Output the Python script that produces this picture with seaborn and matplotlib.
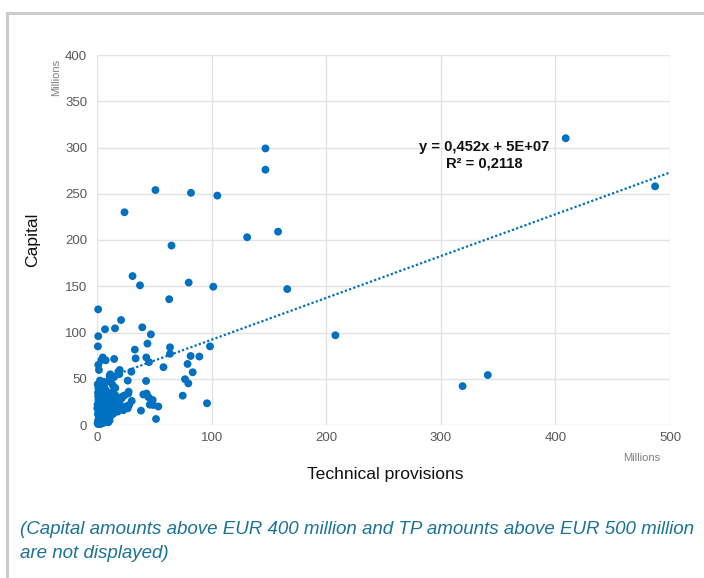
import numpy as np
import pandas as pd
import matplotlib
matplotlib.use("Agg")
import matplotlib.pyplot as plt
import matplotlib.patches as patches
import seaborn as sns

# technical provisions and capital, EUR millions
tp = [487, 409, 341, 319, 208, 147, 147, 158, 166, 131, 105, 82, 51, 24, 65,
      101.5, 80, 63, 31, 37.5, 1, 98.6, 96, 89.3, 81.7, 79, 83.5, 76.8, 79.7, 74.8,
      63.7, 63.7, 58, 53.5, 51.5, 49, 48.6, 46, 44, 47, 39.5, 33, 33.7, 43, 45.4,
      42.8, 43.3, 40.4, 45, 38.4, 30.3, 28, 26.8, 27.6, 30, 21, 15.7, 7, 1.1, 0.8,
      15, 5, 7.6, 3.8, 1.1, 1.7, 19.8, 19.5, 18.6, 11.6, 11, 13, 15, 9, 2.6,
      1.2, 13.7, 16, 14, 27.3, 22, 21.5, 17.2, 18, 18, 18, 23, 26.8, 25, 12,
      10, 9, 11, 14, 16, 20, 22, 13, 24, 15,
      0.5, 1, 2, 0.8, 1.5, 3, 0.5, 2, 4, 1, 3, 5, 2, 0.6, 6, 7, 8, 6, 5, 4,
      7, 9, 3, 2, 1.5, 4, 6, 8, 5, 3, 0.3, 1.2, 9.5, 7.5, 2.5, 4.5, 0.9, 6.5,
      10, 8.5, 1, 12, 11, 14, 3, 5, 2.2]
capital = [258, 310, 54, 42, 97, 299, 276, 209, 147, 203, 248, 251, 254, 230, 194,
           149.5, 154, 136, 161, 151, 125, 85, 23.5, 74, 74.6, 66, 57, 49.5, 45, 31.7,
           84, 77, 62.5, 20, 6.5, 21.6, 27, 22, 88, 98, 105.6, 81.5, 72, 73, 68,
           47.6, 34, 33, 30, 15.5, 26, 21.6, 48, 36, 57.6, 113.5, 104.5, 103.5, 96, 85,
           71.4, 73, 70, 70, 65, 59.5, 59.5, 55, 57.6, 54.8, 53, 50, 52, 47, 48,
           40, 43, 40, 36, 34, 30.6, 28.8, 22.4, 25, 18, 14.4, 16, 18, 20, 30,
           25, 35, 20, 26, 32, 22, 19, 17, 32, 28,
           2, 5, 8, 12, 15, 18, 22, 25, 28, 31, 34, 36, 38, 44, 42, 30, 22, 15, 10, 5,
           3, 8, 1, 3, 9, 12, 20, 27, 32, 40, 18, 27, 14, 38, 45, 24, 35, 8,
           3, 18, 1, 10, 5, 12, 14, 2, 20]

# Excel trend line as shown on the chart
trend_slope = 0.452
trend_intercept = 47
trend_x = [5, 500]

x_ticks = [0, 100, 200, 300, 400, 500]
y_ticks = [0, 50, 100, 150, 200, 250, 300, 350, 400]

df = pd.DataFrame({"tp": tp, "capital": capital})
trend = pd.DataFrame({"tp": trend_x})
trend["capital"] = trend_slope * trend["tp"] + trend_intercept

sns.set_theme(style="whitegrid")
plt.rcParams["font.family"] = ["Liberation Sans", "DejaVu Sans"]

W, H = 704, 578
fig = plt.figure(figsize=(W / 100, H / 100), dpi=100)
ax = fig.add_axes([97 / W, 1 - 425 / H, (670 - 97) / W, (425 - 55) / H])

blue = "#0070c0"
sns.lineplot(data=trend, x="tp", y="capital", ax=ax, color=blue,
             linestyle=(0, (1, 1)), linewidth=1.6)
sns.scatterplot(data=df, x="tp", y="capital", ax=ax, color=blue, s=32,
                edgecolor="none", clip_on=False, zorder=3)

ax.set_xlim(0, 500)
ax.set_ylim(0, 400)
ax.set_xticks(x_ticks)
ax.set_yticks(y_ticks)
ax.set_xlabel("")
ax.set_ylabel("")
ax.grid(True, color="#e3e3e3", linewidth=1)
for s in ax.spines.values():
    s.set_visible(False)
ax.tick_params(axis="both", length=0, labelsize=9.5, labelcolor="#595959")
ax.tick_params(axis="y", pad=7)
ax.tick_params(axis="x", pad=5)

def ftext(x, y, s, **kw):
    fig.text(x / W, 1 - y / H, s, **kw)

ftext(385, 474, "Technical provisions", ha="center", va="center", fontsize=12.6, color="#111111")
ftext(33, 240, "Capital", ha="center", va="center", rotation=90, fontsize=12.6, color="#111111")
ftext(56, 77, "Millions", ha="center", va="center", rotation=90, fontsize=8, color="#7f7f7f")
ftext(642, 458, "Millions", ha="center", va="center", fontsize=8, color="#7f7f7f")

ftext(484, 147, "y = 0,452x + 5E+07", ha="center", va="center", fontsize=10.6,
      fontweight="bold", color="#111111")
ftext(484, 163, "R² = 0,2118", ha="center", va="center", fontsize=10.6,
      fontweight="bold", color="#111111")

cap_color = "#1b7396"
ftext(20, 530, "(Capital amounts above EUR 400 million and TP amounts above EUR 500 million",
      ha="left", va="center", fontsize=13.5, style="italic", color=cap_color)
ftext(20, 553, "are not displayed)", ha="left", va="center", fontsize=13.5,
      style="italic", color=cap_color)

# light frame around the panel (cut off at right and bottom)
frame = patches.Rectangle((7 / W, -0.1), 1.2, 1 - 13 / H + 0.1, transform=fig.transFigure,
                          fill=False, edgecolor="#cccccc", linewidth=2.2)
fig.patches.append(frame)

fig.savefig("out.png", dpi=100)
